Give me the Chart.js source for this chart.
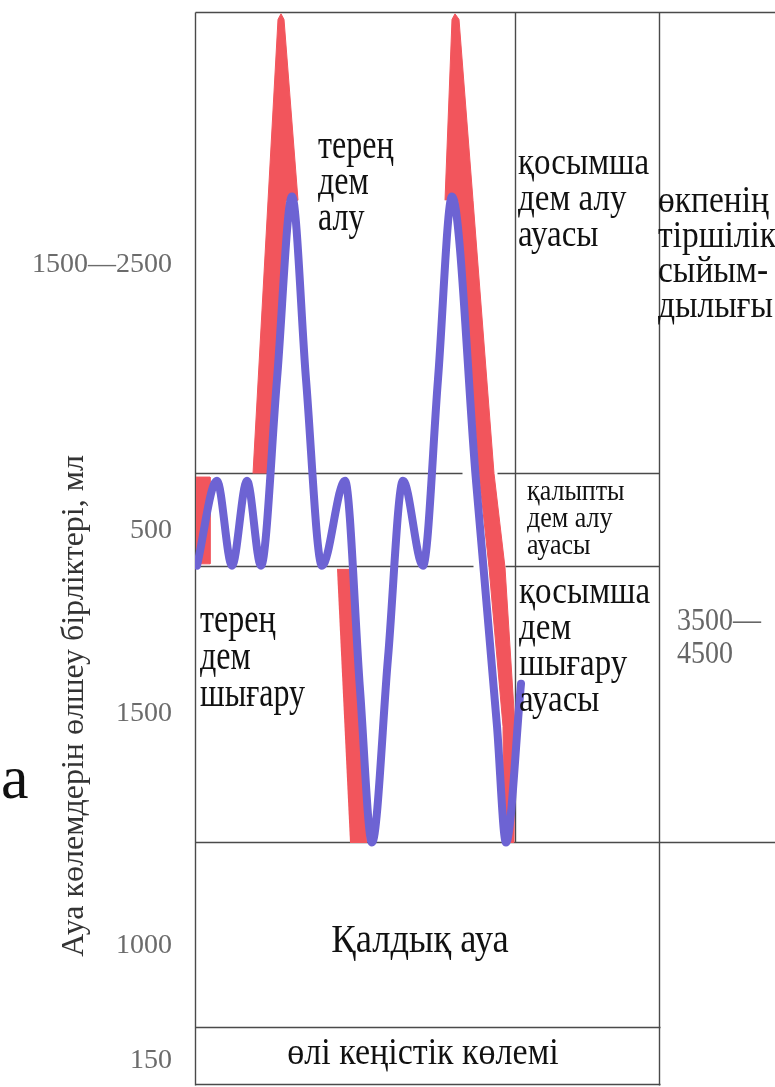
<!DOCTYPE html>
<html><head><meta charset="utf-8">
<script src="https://cdn.jsdelivr.net/npm/chart.js@4.4.1/dist/chart.umd.min.js"></script>
<style>html,body{margin:0;padding:0;background:#fff;overflow:hidden}#wrap{position:relative;width:775px;height:1087px}canvas{display:block}</style>
</head><body><div id="wrap"><canvas id="c" width="775" height="1087"></canvas></div>
<script>
// time axis: arbitrary time units; volume axis: ml (cumulative lung volume)
const blueTime   = [2, 22, 37, 52, 66, 82, 97, 111, 127, 150, 165, 177, 193, 208, 228, 243, 257, 281, 302, 311, 326];
const blueVolume = [2500, 2960, 2500, 2960, 2500, 3510, 4500, 3510, 2500, 2960, 1830, 1000, 2000, 2960, 2500, 3510, 4500, 2960, 1630, 1000, 1860];
// red band outlines (time, ml)
const redTime1 = [1, 15, 15, 1];
const redVolume1 = [2980, 2980, 2510, 2510];
const redTime2 = [58, 83, 86, 89, 103, 91, 73];
const redVolume2 = [3000, 5460, 5490, 5460, 4480, 4480, 3000];
const redTime3 = [142, 158, 172, 155];
const redVolume3 = [2480, 2480, 1000, 1000];
const redTime4 = [250, 257, 260, 264, 278, 299, 310, 320, 319, 309, 308, 294, 284, 263];
const redVolume4 = [4480, 5460, 5490, 5460, 4480, 3000, 2490, 1630, 1000, 1000, 1630, 2490, 3000, 4480];
const bandBounds = [5500, 3000, 2500, 1000, 0, -314];
const tickValues = [4130, 2690, 1700, 440, -180];
const tickLabels = ['1500—2500', '500', '1500', '1000', '150'];
const axisTitle = 'Ауа көлемдерін өлшеу бірліктері, мл';
const deepInLabel  = ['терең', 'дем', 'алу'];
const deepOutLabel = ['терең', 'дем', 'шығару'];
const irvLabel = ['қосымша', 'дем алу', 'ауасы'];
const tvLabel  = ['қалыпты', 'дем алу', 'ауасы'];
const ervLabel = ['қосымша', 'дем', 'шығару', 'ауасы'];
const vcLabel  = ['өкпенің', 'тіршілік', 'сыйым-', 'дылығы'];
const vcValue  = ['3500—', '4500'];
const rvLabel  = ['Қалдық ауа'];
const deadLabel = ['өлі кеңістік көлемі'];
const strayLabel = ['а'];

const pts = (xs, ys) => xs.map((x, i) => ({x, y: ys[i]}));
const RED = '#f2555c', BLUE = '#6d63d3';

const frameLines = [ // [t1, v1, t2, v2]
  [0, bandBounds[0], 580, bandBounds[0]],
  [0, bandBounds[1], 267, bandBounds[1]], [302, bandBounds[1], 464, bandBounds[1]],
  [0, bandBounds[2], 278, bandBounds[2]], [310, bandBounds[2], 464, bandBounds[2]],
  [0, bandBounds[3], 580, bandBounds[3]],
  [0, bandBounds[4], 465, bandBounds[4]],
  [0, bandBounds[5] + 8, 465, bandBounds[5] + 8],
  [0, bandBounds[0], 0, bandBounds[5]],
  [320, bandBounds[0], 320, bandBounds[3]],
  [464, bandBounds[0], 464, bandBounds[5]]
];

const framePlugin = {
  id: 'frame',
  beforeDatasetsDraw(chart) {
    const {ctx, scales: {x, y}} = chart;
    ctx.save();
    ctx.strokeStyle = '#4a4a4a'; ctx.lineWidth = 1.4;
    frameLines.forEach(([t1, v1, t2, v2]) => {
      ctx.beginPath();
      ctx.moveTo(Math.round(x.getPixelForValue(t1)) + 0.5, Math.round(y.getPixelForValue(v1)) + 0.5);
      ctx.lineTo(Math.round(x.getPixelForValue(t2)) + 0.5, Math.round(y.getPixelForValue(v2)) + 0.5);
      ctx.stroke();
    });
    ctx.restore();
  }
};

const textBlocks = [
  // lines, t, ml (center of first line), pitch px, font size, sy, color, align
  {lines: deepInLabel,  t: 123, v: 4763, pitch: 36, size: 32, sy: 1.3, color: '#111', align: 'left'},
  {lines: deepOutLabel, t: 5,   v: 2195, pitch: 37, size: 32, sy: 1.3, color: '#111', align: 'left'},
  {lines: irvLabel,     t: 323, v: 4671, pitch: 36, size: 33, sy: 1.18, color: '#111', align: 'left'},
  {lines: vcLabel,      t: 463, v: 4465, pitch: 35, size: 33.5, sy: 1.12, color: '#111', align: 'left'},
  {lines: tvLabel,      t: 332, v: 2894, pitch: 27, size: 26, sy: 1.15, color: '#111', align: 'left'},
  {lines: ervLabel,     t: 324, v: 2346, pitch: 36, size: 33, sy: 1.18, color: '#111', align: 'left'},
  {lines: vcValue,      t: 482, v: 2189, pitch: 33, size: 28, sy: 1.15, color: '#666', align: 'left'},
  {lines: rvLabel,      t: 225, v: 455,  pitch: 36, size: 36.5, sy: 1.1, color: '#111', align: 'center'},
  {lines: deadLabel,    t: 228, v: -152, pitch: 36, size: 34, sy: 1.1, color: '#111', align: 'center'}
];

const textPlugin = {
  id: 'texts',
  afterDraw(chart) {
    const {ctx, scales: {x, y}} = chart;
    ctx.save();
    textBlocks.forEach(b => {
      const px = x.getPixelForValue(b.t);
      const py0 = y.getPixelForValue(b.v);
      ctx.font = b.size + 'px "Liberation Serif", "DejaVu Serif", serif';
      ctx.fillStyle = b.color;
      ctx.textAlign = b.align;
      ctx.textBaseline = 'alphabetic';
      b.lines.forEach((s, i) => {
        const cy = py0 + i * b.pitch;
        ctx.save();
        ctx.translate(px, cy + 0.23 * b.size * b.sy);
        ctx.scale(1, b.sy);
        ctx.fillText(s, 0, 0);
        ctx.restore();
      });
    });
    // axis title (rotated)
    ctx.save();
    ctx.translate(75, y.getPixelForValue(1740));
    ctx.rotate(-Math.PI / 2);
    ctx.font = '32px "Liberation Serif", "DejaVu Serif", serif';
    ctx.fillStyle = '#333';
    ctx.textAlign = 'center'; ctx.textBaseline = 'middle';
    ctx.fillText(axisTitle, 0, 0);
    ctx.restore();
    // stray letter at the left edge of the scan
    ctx.font = '62px "Liberation Serif", serif';
    ctx.fillStyle = '#111'; ctx.textAlign = 'left'; ctx.textBaseline = 'alphabetic';
    ctx.fillText(strayLabel[0], 1, y.getPixelForValue(1240));
    ctx.restore();
  }
};

const redShape = (data) => ({
  data, borderColor: RED, borderWidth: 1, backgroundColor: RED, fill: 'shape',
  pointRadius: 0, tension: 0
});

new Chart(document.getElementById('c'), {
  type: 'line',
  data: {
    datasets: [
      {
        data: pts(blueTime, blueVolume), borderColor: BLUE, borderWidth: 8, pointRadius: 0,
        fill: false, cubicInterpolationMode: 'monotone', borderCapStyle: 'round', borderJoinStyle: 'round'
      },
      redShape(pts(redTime1, redVolume1)),
      redShape(pts(redTime2, redVolume2)),
      redShape(pts(redTime3, redVolume3)),
      redShape(pts(redTime4, redVolume4))
    ]
  },
  options: {
    responsive: false, animation: false, events: [],
    layout: {padding: {top: 12, bottom: 2, left: 0, right: 0}},
    plugins: {legend: {display: false}, tooltip: {enabled: false}},
    scales: {
      x: {type: 'linear', min: 0, max: 580, display: false},
      y: {
        type: 'linear', min: bandBounds[5], max: bandBounds[0],
        grid: {display: false, drawTicks: false}, border: {display: false},
        afterBuildTicks: s => { s.ticks = tickValues.map(v => ({value: v})); },
        afterFit: s => { s.width = 195; s.paddingTop = 0; s.paddingBottom = 0; },
        ticks: {
          padding: 23, color: '#6b6b6b',
          font: {family: '"Liberation Serif", "DejaVu Serif", serif', size: 28},
          callback: (v, i) => tickLabels[i]
        }
      }
    }
  },
  plugins: [framePlugin, textPlugin]
});
</script></body></html>
